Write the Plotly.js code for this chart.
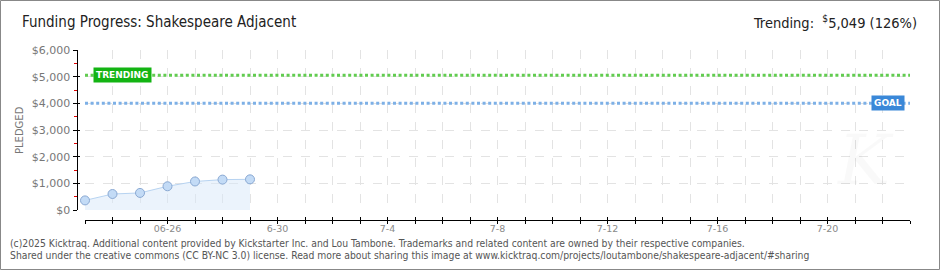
<!DOCTYPE html>
<html>
<head>
<meta charset="utf-8">
<script src="https://cdn.plot.ly/plotly-3.0.1.min.js"></script>
<style>html,body{margin:0;padding:0;background:#fff;}#chart{width:940px;height:270px;}</style>
</head>
<body>
<div id="chart"></div>
<script>
// ---- data ----
const dates = ['2025-06-23','2025-06-24','2025-06-25','2025-06-26','2025-06-27','2025-06-28','2025-06-29'];
const pledged = [360, 600, 640, 890, 1070, 1140, 1150];
const trendingValue = 5049;
const goalValue = 4000;
const rangeStart = '2025-06-23';
const rangeEnd = '2025-07-23';
const labelDates = ['2025-06-26','2025-06-30','2025-07-04','2025-07-08','2025-07-12','2025-07-16','2025-07-20'];
const labelTexts = ['06-26','6-30','7-4','7-8','7-12','7-16','7-20'];
const titleText = 'Funding Progress: Shakespeare Adjacent';
const footer1 = '(c)2025 Kicktraq. Additional content provided by Kickstarter Inc. and Lou Tambone. Trademarks and related content are owned by their respective companies.';
const footer2 = 'Shared under the creative commons (CC BY-NC 3.0) license. Read more about sharing this image at www.kicktraq.com/projects/loutambone/shakespeare-adjacent/#sharing';

// ---- build daily ticks ----
const tickVals = [], tickText = [];
{
  let d = new Date(rangeStart + 'T00:00:00Z');
  const end = new Date(rangeEnd + 'T00:00:00Z');
  while (d <= end) {
    const s = d.toISOString().slice(0,10);
    tickVals.push(s);
    const i = labelDates.indexOf(s);
    tickText.push(i >= 0 ? labelTexts[i] : ' ');
    d = new Date(d.getTime() + 86400000);
  }
}

const W = 940, H = 270;
const px = v => v / W;
const py = v => 1 - v / H;

const xDom = [px(85), px(910)];
const yDom = [py(210), py(50)];
const xAxisPos = py(220);
const yAxisPos = px(76.5);

const fmt = n => n.toLocaleString('en-US');
const pct = Math.round(trendingValue / goalValue * 100);

const traces = [
  {
    x: dates, y: pledged, type: 'scatter', mode: 'lines+markers',
    fill: 'tozeroy', fillcolor: 'rgba(215,232,250,0.5)',
    line: {color: '#b7d3f1', width: 1},
    marker: {size: 9, color: '#c3dbf6', line: {color: '#8aa9d3', width: 1}},
    hoverinfo: 'skip', showlegend: false, cliponaxis: false
  },
  {
    x: [dates[0]], y: [pledged[0]], xaxis: 'x2', yaxis: 'y2', type: 'scatter', mode: 'markers',
    marker: {opacity: 0}, hoverinfo: 'skip', showlegend: false
  }
];

const gridCol = '#e3e3e3';
const layout = {
  width: W, height: H,
  margin: {l: 0, r: 0, t: 0, b: 0},
  paper_bgcolor: '#fff', plot_bgcolor: '#fff',
  showlegend: false,
  xaxis: {
    type: 'date', domain: xDom, range: [rangeStart, rangeEnd],
    anchor: 'free', position: xAxisPos,
    tickmode: 'array', tickvals: tickVals, ticktext: tickText,
    ticks: 'outside', ticklen: 3, tickcolor: '#000', tickwidth: 1,
    ticklabelstandoff: -4,
    showline: true, linecolor: '#000', linewidth: 1.2,
    showgrid: true, gridcolor: gridCol, griddash: 'dash', gridwidth: 1,
    zeroline: false, fixedrange: true,
    tickfont: {family: 'DejaVu Sans', size: 9.5, color: '#8a8a8a'}
  },
  xaxis2: {
    type: 'date', overlaying: 'x', matches: 'x', range: [rangeStart, rangeEnd],
    anchor: 'free', position: xAxisPos, side: 'bottom',
    tickmode: 'array', tickvals: tickVals,
    ticks: 'inside', ticklen: 3, tickcolor: '#000', tickwidth: 1,
    showline: false, showgrid: false, showticklabels: false, zeroline: false
  },
  yaxis: {
    domain: yDom, range: [0, 6000], anchor: 'free', position: yAxisPos,
    dtick: 1000, tick0: 0, tickprefix: '$', tickformat: ',',
    ticks: 'outside', ticklen: 4, tickcolor: '#000', tickwidth: 1,
    minor: {dtick: 500, tick0: 0, ticks: 'outside', ticklen: 3, tickcolor: '#e00000', tickwidth: 1, showgrid: false},
    showline: true, linecolor: '#000', linewidth: 1.2,
    showgrid: true, gridcolor: gridCol, griddash: 'dash', gridwidth: 1,
    zeroline: false, fixedrange: true,
    tickfont: {family: 'DejaVu Sans', size: 11, color: '#777'}
  },
  yaxis2: {
    overlaying: 'y', matches: 'y', range: [0, 6000], anchor: 'free', position: yAxisPos, side: 'left',
    dtick: 1000, tick0: 0, ticks: 'inside', ticklen: 2, tickcolor: '#000', tickwidth: 1,
    showline: false, showgrid: false, showticklabels: false, zeroline: false
  },
  shapes: [
    {type: 'line', xref: 'x domain', yref: 'y', x0: 0, x1: 1, y0: trendingValue, y1: trendingValue,
     line: {color: '#62cc50', width: 3, dash: '3px,2.6px'}, layer: 'above'},
    {type: 'line', xref: 'x domain', yref: 'y', x0: 0, x1: 1, y0: goalValue, y1: goalValue,
     line: {color: '#7db0e6', width: 3, dash: '3px,2.6px'}, layer: 'above'},
    {type: 'rect', xref: 'paper', yref: 'paper', x0: px(0.5), x1: px(939.5), y0: py(269.5), y1: py(0.5),
     line: {color: '#888', width: 1}, fillcolor: 'rgba(0,0,0,0)'}
  ],
  annotations: [
    {xref: 'paper', yref: 'paper', x: px(20), y: py(22), xanchor: 'left', yanchor: 'middle', showarrow: false,
     text: titleText, font: {family: 'DejaVu Sans Condensed', size: 15, color: '#222'}},
    {xref: 'paper', yref: 'paper', x: px(919), y: py(22), xanchor: 'right', yanchor: 'middle', showarrow: false,
     text: 'Trending:  <sup>$</sup>' + fmt(trendingValue) + ' (' + pct + '%)',
     font: {family: 'DejaVu Sans Condensed', size: 14.5, color: '#222'}},
    {xref: 'paper', yref: 'paper', x: px(20), y: py(130), xanchor: 'center', yanchor: 'middle', showarrow: false,
     textangle: -90, text: 'PLEDGED', font: {family: 'DejaVu Sans', size: 10, color: '#777'}},
    {xref: 'paper', yref: 'y', x: px(93), y: trendingValue, xanchor: 'left', yanchor: 'middle', showarrow: false,
     text: '<b>TRENDING</b>', bgcolor: '#13b413', borderpad: 2,
     font: {family: 'DejaVu Sans', size: 9, color: '#fff'}},
    {xref: 'paper', yref: 'y', x: px(904.5), y: goalValue, xanchor: 'right', yanchor: 'middle', showarrow: false,
     text: '<b>GOAL</b>', bgcolor: '#3a88d8', borderpad: 2,
     font: {family: 'DejaVu Sans', size: 9, color: '#fff'}},
    {xref: 'paper', yref: 'paper', x: px(865), y: py(160), xanchor: 'center', yanchor: 'middle', showarrow: false,
     text: '<i>K</i>', font: {family: 'DejaVu Serif', size: 70, color: 'rgba(0,0,0,0.025)'}},
    {xref: 'paper', yref: 'paper', x: px(8), y: py(243), xanchor: 'left', yanchor: 'middle', showarrow: false,
     text: footer1, font: {family: 'DejaVu Sans Condensed', size: 10.3, color: '#555'}},
    {xref: 'paper', yref: 'paper', x: px(8), y: py(255), xanchor: 'left', yanchor: 'middle', showarrow: false,
     text: footer2, font: {family: 'DejaVu Sans Condensed', size: 10.3, color: '#555'}}
  ]
};

Plotly.newPlot('chart', traces, layout, {staticPlot: true, displayModeBar: false});
</script>
</body>
</html>
